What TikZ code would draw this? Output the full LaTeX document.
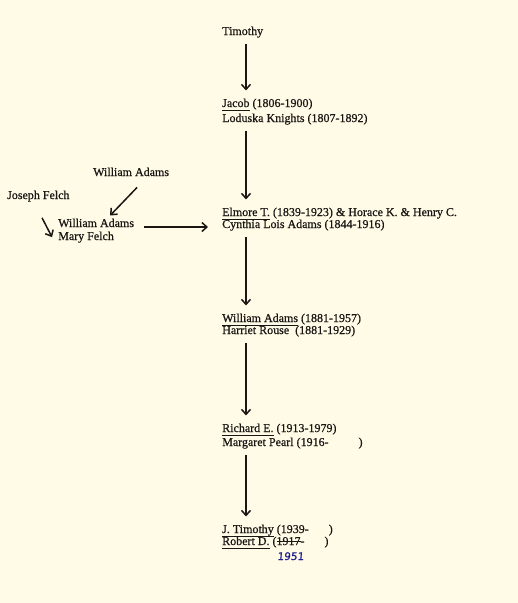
\documentclass[tikz,border=0pt]{standalone}
\usepackage{fontspec}
\setmainfont{Liberation Serif}[FakeBold=0.6]
\newfontfamily\handfont{DejaVu Sans}[FakeSlant=0.1, FakeBold=0.8]
\usepackage{xcolor}
\usepackage{tikz}
\usetikzlibrary{arrows.meta, positioning, calc}
\definecolor{paper}{RGB}{255,251,231}
\definecolor{ink}{RGB}{25,22,20}
\definecolor{pen}{RGB}{30,30,140}
\newcommand{\husband}[1]{\setbox0\hbox{#1}\rlap{\rule[-3.5pt]{\wd0}{0.6pt}}\box0\relax}
\newcommand{\struck}[1]{\setbox0\hbox{#1}\rlap{\rule[3.2pt]{\wd0}{0.7pt}}\box0\relax}
\tikzset{
  person/.style={anchor=base west, inner sep=0pt, font=\fontsize{12}{14}\selectfont, text=ink},
  note/.style={anchor=base west, inner sep=0pt, font=\handfont\fontsize{10.5}{12}\selectfont, text=pen},
  descent/.style={line width=1.5pt, draw=ink, -{Straight Barb[length=5pt,width=9pt]}, shorten <=6pt, shorten >=8pt}
}

\begin{document}
\begin{tikzpicture}[x=1pt, y=-1pt]
\fill[paper] (0,0) rectangle (518,603);
\useasboundingbox (0,0) rectangle (518,603);
\coordinate (spine) at (246,0);

% Generation 1: Timothy
\node[person] (timothy) at (222,35) {Timothy};

% Generation 2: Jacob
\node[person] (jacob) at (222,107) {\husband{Jacob} (1806-1900)};
\node[person] (loduska) at (222,122) {Loduska Knights (1807-1892)};

% Generation 3: Elmore T.
\node[person] (elmore) at (222,216) {\husband{Elmore T.} (1839-1923) \& Horace K. \& Henry C.};
\node[person] (cynthia) at (222,228) {Cynthia Lois Adams (1844-1916)};

% Cynthia's side
\node[person] (wadams) at (93,176) {William Adams};
\node[person] (joseph) at (7,199) {Joseph Felch};
\node[person] (wadamsjr) at (58,227) {William Adams};
\node[person] (mary) at (58,240) {Mary Felch};

% Generation 4: William Adams
\node[person] (william) at (222,322) {\husband{William Adams} (1881-1957)};
\node[person] (harriet) at (222,334) {Harriet Rouse\ \ (1881-1929)};

% Generation 5: Richard E.
\node[person] (richard) at (222,432) {\husband{Richard E.} (1913-1979)};
\node[person] (margaret) at (222,446) {Margaret Pearl (1916-\hspace{30pt})};

% Generation 6: J. Timothy
\node[person] (jtimothy) at (222,533) {\husband{J. Timothy} (1939-\hspace{20pt})};
\node[person] (robert) at (222,545) {\husband{Robert D.} (\struck{1917}-\hspace{20pt})};
\node[note] (correction) at (277,560) {1951};

% descent
\draw[descent] (timothy.south -| spine) -- (jacob.north -| spine);
\draw[descent] (loduska.south -| spine) -- (elmore.north -| spine);
\draw[descent] (cynthia.south -| spine) -- (william.north -| spine);
\draw[descent] (harriet.south -| spine) -- (richard.north -| spine);
\draw[descent] (margaret.south -| spine) -- (jtimothy.north -| spine);

% Adams and Felch lines
\draw[descent, shorten <=0pt, shorten >=0pt] ([xshift=6pt,yshift=-11pt]wadams.south) -- ([xshift=14pt,yshift=3pt]wadamsjr.north);
\draw[descent, shorten <=0pt, shorten >=0pt] ([xshift=35pt,yshift=-16pt]joseph.south west) -- ([xshift=-6pt]mary.west);
\draw[descent, shorten <=10pt, shorten >=14pt] (wadamsjr.base east) -- (wadamsjr.base east -| cynthia.west);
\end{tikzpicture}
\end{document}
